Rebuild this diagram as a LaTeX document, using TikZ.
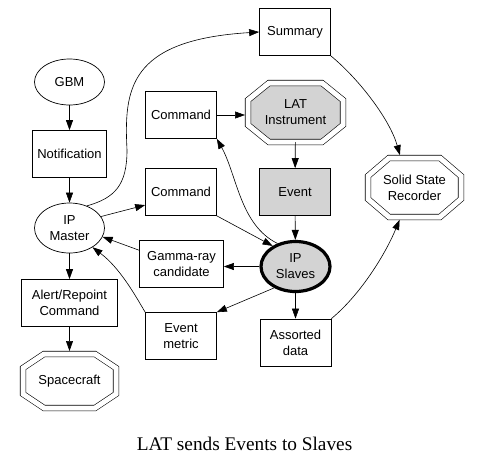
\documentclass[tikz,border=0pt]{standalone}
\usepackage{fontspec}
\setmainfont{Liberation Serif}
\setsansfont{Liberation Sans}
\usetikzlibrary{positioning, arrows.meta, shapes.geometric, backgrounds}
\definecolor{shade}{RGB}{211,211,211}

% double octagon frame round a node: name, chamfer x, chamfer y
\newcommand{\octoframe}[4][]{%
  \draw[frame, #1] ([xshift=#3]#2.north west) -- ([xshift=-#3]#2.north east)
    -- ([yshift=-#4]#2.north east) -- ([yshift=#4]#2.south east)
    -- ([xshift=-#3]#2.south east) -- ([xshift=#3]#2.south west)
    -- ([yshift=#4]#2.south west) -- ([yshift=-#4]#2.north west) -- cycle;}

\begin{document}
\begin{tikzpicture}[
    x=1pt, y=-1pt,
    >={Triangle[length=10pt,width=7pt]},
    lbl/.style={font=\sffamily\fontsize{13}{16}\selectfont, align=center, inner sep=1pt},
    box/.style={lbl, draw, line width=0.7pt, minimum width=71pt, minimum height=47pt},
    oval/.style={lbl, draw, ellipse, line width=0.7pt, minimum width=70pt, minimum height=46pt},
    octo/.style={lbl, outer sep=0pt},
    frame/.style={draw, line width=0.6pt, double, double distance=5pt},
    edge/.style={->, line width=0.6pt},
    caption/.style={font=\fontsize{19.3}{21}\selectfont}
]
\useasboundingbox (0,0) rectangle (487,467);

% === left column ===
\node[oval] (gbm) at (69.5,82) {GBM};
\node[box, minimum width=74pt] (notif) at (69.5,154) {Notification};
\node[oval, minimum height=50pt] (master) at (69.5,228) {IP\\Master};
\node[box, minimum width=96pt] (alert) at (69.5,303) {Alert/Repoint\\Command};
\node[octo, minimum width=93pt, minimum height=54pt] (craft) at (69.5,381) {Spacecraft};

% === middle column ===
\node[box] (cmdtop) at (181,115) {Command};
\node[box] (cmd2) at (181,192) {Command};
\node[box, minimum width=84pt] (gamma) at (181.5,264) {Gamma-ray\\candidate};
\node[box] (metric) at (181,336) {Event\\metric};

% === LAT column ===
\node[box] (summary) at (295,32) {Summary};
\node[octo, minimum width=95pt, minimum height=59pt] (lat) at (295.5,112.5) {LAT\\Instrument};
\node[box, fill=shade] (event) at (295,192) {Event};
\node[oval, fill=shade, line width=3.2pt, minimum width=69pt, minimum height=50pt] (slaves) at (295.5,266.5) {IP\\Slaves};
\node[box] (assorted) at (295.5,342.5) {Assorted\\data};

% === recorder ===
\node[octo, minimum width=93pt, minimum height=59pt] (ssr) at (414.5,187.5) {Solid State\\Recorder};

\node[caption, anchor=base] (title) at (244.5,450.5) {LAT sends Events to Slaves};

% === octagon frames ===
\begin{scope}[on background layer]
\octoframe{craft}{21pt}{14pt}
\octoframe[fill=shade]{lat}{21pt}{17pt}
\octoframe{ssr}{21pt}{18pt}
\end{scope}

% === Arrows ===
\draw[edge] (gbm) -- (notif);
\draw[edge] (notif) -- (master);
\draw[edge] (master) -- (alert);
\draw[edge, shorten >=3pt] (alert) -- (craft);
\draw[edge] (master.52) .. controls (115,198) and (127,185) .. (127,150)
    .. controls (124,90) and (128,40) .. (summary.west);
\draw[edge] (master.20) -- (cmd2.200);
\draw[edge, shorten >=3pt] (cmdtop.east) -- (cmdtop.east -| lat.west);
\draw[edge] (lat) -- (event);
\draw[edge] (event) -- (slaves);
\draw[edge] (slaves.128) .. controls (240,225) and (237,175) .. (cmdtop.south east);
\draw[edge] (cmd2.south east) -- (slaves.138);
\draw[edge] (slaves.west) -- (slaves.west -| gamma.east);
\draw[edge] (gamma.162) -- (master.-15);
\draw[edge] (slaves.225) -- (metric.north east);
\draw[edge] (metric.north west) .. controls (135,295) and (120,268) .. (master.-40);
\draw[edge] (slaves) -- (assorted);
\draw[edge, shorten >=3pt] (summary.south east) .. controls (360,80) and (390,120) .. (ssr.115);
\draw[edge, shorten >=3pt] (assorted.north east) .. controls (360,295) and (385,255) .. (ssr.245);

\end{tikzpicture}
\end{document}
